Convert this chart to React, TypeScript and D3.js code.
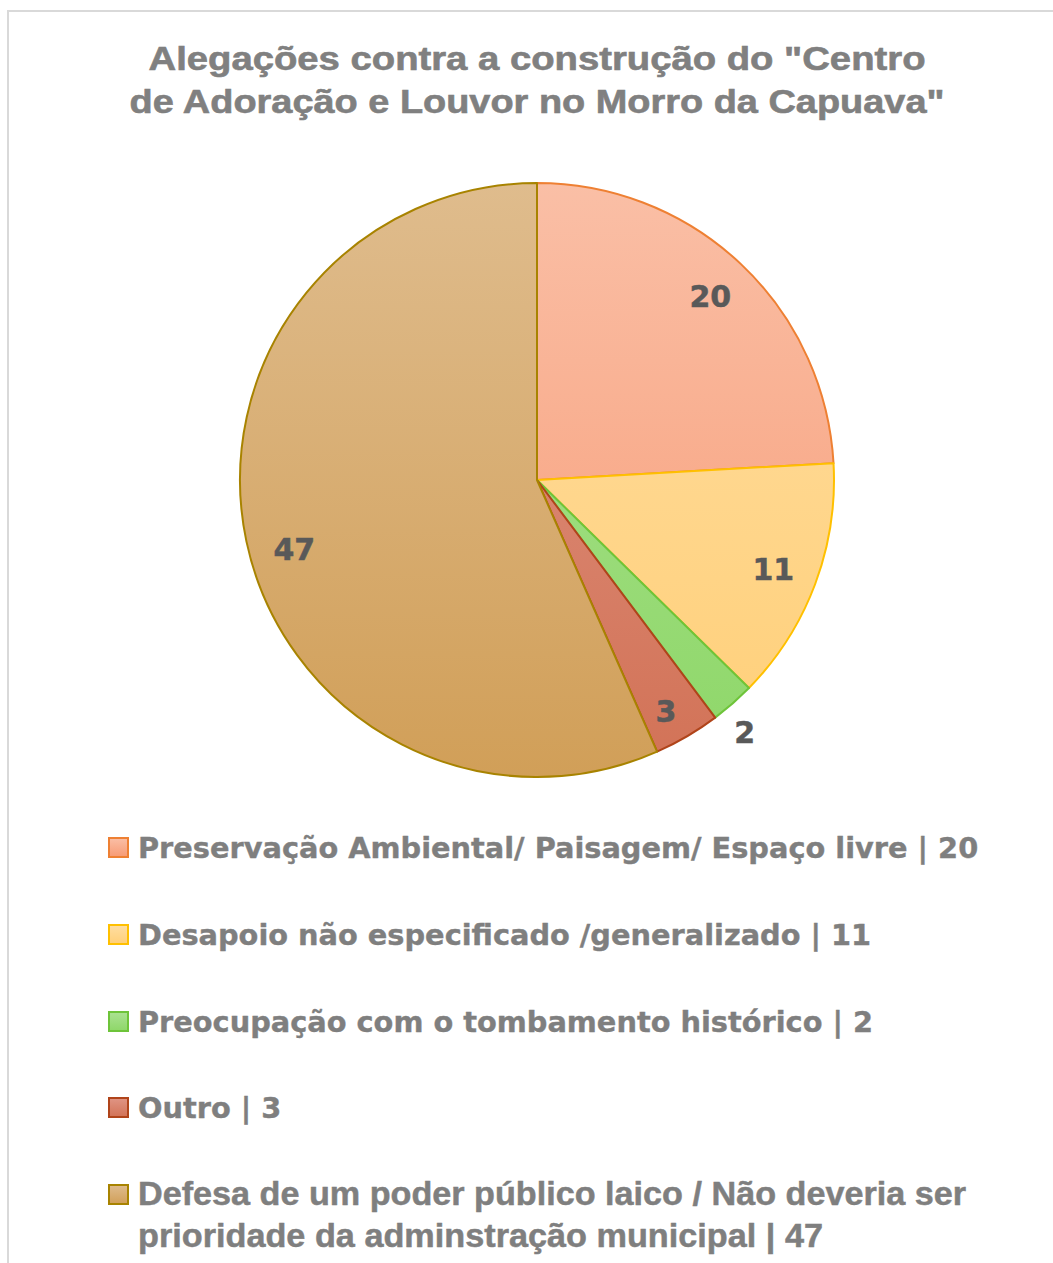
import React from "react";
import * as d3 from "d3";

const titleLines = ['Alegações contra a construção do "Centro', 'de Adoração e Louvor no Morro da Capuava"'];
const categories = [
  "Preservação Ambiental/ Paisagem/ Espaço livre",
  "Desapoio não especificado /generalizado",
  "Preocupação com o tombamento histórico",
  "Outro",
  "Defesa de um poder público laico / Não deveria ser prioridade da adminstração municipal",
];
const values = [20, 11, 2, 3, 47];

// styles
const fillTop = ["#FABFA6", "#FFDEA2", "#ABE293", "#E09585", "#DFBC8D"];
const fillBottom = ["#F79A74", "#FFCF78", "#8ED768", "#D27256", "#D19F58"];
const strokes = ["#EE8033", "#FFC000", "#6EC43A", "#B0441A", "#A88300"];
const labelRadiusFactor = [0.85, 0.85, 1.1, 0.89, 0.85];
const labelAngleShift = [0, 0, 0.03, 0.02, -0.07];

const W = 1053;
const H = 1263;
const cx = 537;
const cy = 480;
const R = 297;

export default function App() {
  const pie = d3.pie<number>().sort(null).value((d) => d)(values);
  const arc = d3.arc<d3.PieArcDatum<number>>().innerRadius(0).outerRadius(R);

  const legendRowsY = [858, 945, 1032, 1118, 1205];
  return (
    <svg
      width={W}
      height={H}
      style={{ position: "absolute", left: 0, top: 0, display: "block", background: "#fff" }}
    >
      <defs>
        {values.map((_, i) => (
          <linearGradient key={i} id={`g${i}`} gradientUnits="userSpaceOnUse" x1={0} y1={-R} x2={0} y2={R}>
            <stop offset="0" stopColor={fillTop[i]} />
            <stop offset="1" stopColor={fillBottom[i]} />
          </linearGradient>
        ))}
        {values.map((_, i) => (
          <linearGradient key={"l" + i} id={`lg${i}`} x1={0} y1={0} x2={0} y2={1}>
            <stop offset="0" stopColor={fillTop[i]} />
            <stop offset="1" stopColor={fillBottom[i]} />
          </linearGradient>
        ))}
      </defs>
      <rect x={8} y={11} width={W + 50} height={H + 50} fill="#fff" stroke="#D9D9D9" strokeWidth={2} />
      <g fontFamily="'Liberation Sans', Arial, sans-serif" fontWeight="bold" fill="#808080" stroke="#808080" strokeWidth={0.6} fontSize={33} textAnchor="middle">
        <text x={537} y={70} textLength={777} lengthAdjust="spacingAndGlyphs">{titleLines[0]}</text>
        <text x={537} y={113} textLength={815} lengthAdjust="spacingAndGlyphs">{titleLines[1]}</text>
      </g>
      <g transform={`translate(${cx},${cy})`}>
        {pie.map((p, i) => (
          <path key={i} d={arc(p) || ""} fill={`url(#g${i})`} stroke={strokes[i]} strokeWidth={2} strokeLinejoin="round" />
        ))}
        {pie.map((p, i) => {
          const a = (p.startAngle + p.endAngle) / 2 + labelAngleShift[i];
          const r = R * labelRadiusFactor[i];
          const x = Math.sin(a) * r;
          const y = -Math.cos(a) * r;
          return (
            <text
              key={"t" + i}
              x={x}
              y={y}
              dy="0.36em"
              textAnchor="middle"
              fontFamily="'DejaVu Sans', Verdana, sans-serif"
              fontWeight="bold"
              fontSize={30}
              fill="#595959"
              stroke="#595959"
              strokeWidth={0.5}
            >
              {values[i]}
            </text>
          );
        })}
      </g>
      <g>
        {categories.map((c, i) => {
          const y = legendRowsY[i];
          const sq = (
            <rect x={109} y={y - 20} width={19} height={19} fill={`url(#lg${i})`} stroke={strokes[i]} strokeWidth={2} />
          );
          if (i < 4) {
            return (
              <g key={i}>
                {sq}
                <text x={138} y={y} fontFamily="'DejaVu Sans', Verdana, sans-serif" fontWeight="bold" fontSize={28.8} fill="#7F7F7F" stroke="#7F7F7F" strokeWidth={0.4}>
                  {`${c} | ${values[i]}`}
                </text>
              </g>
            );
          }
          return (
            <g key={i}>
              {sq}
              <text x={138} y={y} fontFamily="'Liberation Sans', Arial, sans-serif" fontWeight="bold" fontSize={33} fill="#7F7F7F" stroke="#7F7F7F" strokeWidth={0.5} textLength={828} lengthAdjust="spacingAndGlyphs">
                Defesa de um poder público laico / Não deveria ser
              </text>
              <text x={138} y={y + 42} fontFamily="'Liberation Sans', Arial, sans-serif" fontWeight="bold" fontSize={33} fill="#7F7F7F" stroke="#7F7F7F" strokeWidth={0.5} textLength={685} lengthAdjust="spacingAndGlyphs">
                {`prioridade da adminstração municipal | ${values[i]}`}
              </text>
            </g>
          );
        })}
      </g>
    </svg>
  );
}
